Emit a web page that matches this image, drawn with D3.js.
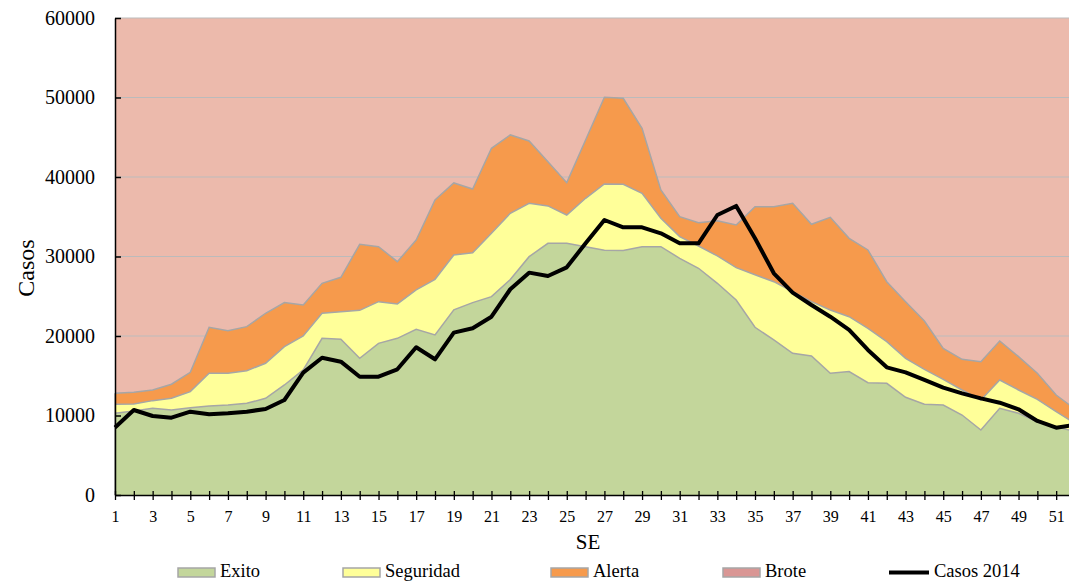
<!DOCTYPE html>
<html>
<head>
<meta charset="utf-8">
<script src="https://cdn.jsdelivr.net/npm/d3@7"></script>
<style>
  html, body { margin: 0; padding: 0; background: #ffffff; overflow: hidden; }
  svg { display: block; font-family: "Liberation Serif", serif; }
</style>
</head>
<body>
<svg id="chart" width="1069" height="582"></svg>
<script>
// ---- Data ----
const weeks = d3.range(1, 53);
const seriesNames = ["Exito", "Seguridad", "Alerta", "Brote", "Casos 2014"];
const yTicks = [0, 10000, 20000, 30000, 40000, 50000, 60000];

const exito = [10280, 10570, 10900, 10690, 10980, 11200, 11320, 11530, 12160, 13840,
  15730, 19710, 19580, 17190, 19080, 19710, 20840, 20130, 23300, 24200,
  24950, 27100, 29980, 31660, 31660, 31240, 30780, 30750, 31240, 31240,
  29770, 28520, 26630, 24530, 21100, 19500, 17830, 17490, 15310, 15520,
  14130, 14050, 12290, 11410, 11320, 10060, 8180, 10910, 10280, 9220,
  8590, 8000];

const seguridad = [11400, 11450, 11870, 12160, 13000, 15310, 15310, 15640, 16570, 18660,
  20000, 22860, 23060, 23230, 24320, 24030, 25790, 27130, 30190, 30480,
  32920, 35440, 36700, 36360, 35220, 37320, 39120, 39080, 37950, 34810,
  32500, 31320, 30070, 28600, 27700, 26830, 25580, 24320, 23270, 22430,
  20970, 19290, 17190, 15810, 14550, 13210, 11950, 14470, 13210, 12040,
  10480, 9020];

const alerta = [12800, 12920, 13200, 13930, 15430, 21100, 20670, 21180, 22860, 24200,
  23900, 26630, 27380, 31540, 31240, 29350, 32080, 37110, 39250, 38490,
  43610, 45290, 44530, 41930, 39290, 44660, 50030, 49900, 46130, 38370,
  35010, 34260, 34510, 33970, 36270, 36270, 36700, 34050, 34930, 32290,
  30820, 26830, 24320, 21890, 18450, 17070, 16770, 19370, 17400, 15310,
  12580, 10800];

const brote = weeks.map(() => 60000); // upper band reaches the top of the scale

const casos2014 = [8500, 10690, 9940, 9730, 10480, 10150, 10280, 10480, 10820, 11950,
  15390, 17270, 16770, 14880, 14880, 15810, 18580, 17070, 20420, 20970,
  22430, 25880, 27970, 27550, 28640, 31660, 34590, 33670, 33670, 32920,
  31660, 31660, 35220, 36360, 32290, 27890, 25450, 23900, 22430, 20760,
  18240, 16060, 15430, 14470, 13500, 12790, 12160, 11610, 10780, 9310,
  8470, 8810];

// ---- Layout ----
const colors = {
  Exito: "#C3D69B",
  Seguridad: "#FFFF99",
  Alerta: "#F69A4C",
  Brote: "#ECBAAC",
  BroteLegend: "#D99694",
  outline: "#A6A6A6",
  grid: "#BBBBBB"
};

const svg = d3.select("#chart");
const x = d3.scaleLinear().domain([1, 52]).range([115, 1075]);
const y = d3.scaleLinear().domain([0, 60000]).range([495, 18]);

const areaGen = d3.area()
  .x((d, i) => x(weeks[i]))
  .y0(y(0))
  .y1(d => y(d));
const lineGen = d3.line()
  .x((d, i) => x(weeks[i]))
  .y(d => y(d));

// Brote band (up to 60000)
svg.append("path").datum(brote)
  .attr("d", areaGen).attr("fill", colors.Brote);

// gridlines
svg.append("g").selectAll("line")
  .data(yTicks.filter(t => t > 0))
  .join("line")
  .attr("x1", x(1)).attr("x2", x(52))
  .attr("y1", d => y(d)).attr("y2", d => y(d))
  .attr("stroke", colors.grid).attr("stroke-width", 1.2);

// bands
const bands = [
  { name: "Alerta", data: alerta },
  { name: "Seguridad", data: seguridad },
  { name: "Exito", data: exito }
];
bands.forEach(b => {
  svg.append("path").datum(b.data)
    .attr("d", areaGen)
    .attr("fill", colors[b.name]);
  svg.append("path").datum(b.data)
    .attr("d", lineGen)
    .attr("fill", "none")
    .attr("stroke", colors.outline)
    .attr("stroke-width", 1.5);
});

// left edge outline
svg.append("line")
  .attr("x1", x(1)).attr("x2", x(1))
  .attr("y1", y(0)).attr("y2", y(alerta[0]))
  .attr("stroke", colors.outline).attr("stroke-width", 1.5);

// Casos 2014 line
svg.append("path").datum(casos2014)
  .attr("d", lineGen)
  .attr("fill", "none")
  .attr("stroke", "#000")
  .attr("stroke-width", 4)
  .attr("stroke-linejoin", "round");

// ---- Axes ----
const yAxis = d3.axisLeft(y).tickValues(yTicks).tickFormat(d3.format("d"))
  .tickSizeInner(-6).tickSizeOuter(0).tickPadding(20);
const gy = svg.append("g").attr("transform", `translate(${x(1)},0)`).call(yAxis);
gy.select(".domain").attr("stroke", "#000").attr("stroke-width", 1.5);
gy.selectAll(".tick line").attr("stroke", "#000").attr("stroke-width", 1.5);
gy.selectAll(".tick text").attr("font-size", 20).attr("fill", "#000")
  .attr("font-family", "Liberation Serif");

const xAxis = d3.axisBottom(x).tickValues(weeks)
  .tickFormat(d => (d % 2 === 1 ? d : ""))
  .tickSizeInner(5).tickSizeOuter(0).tickPadding(11);
const gx = svg.append("g").attr("transform", `translate(0,${y(0)})`).call(xAxis);
gx.select(".domain").attr("stroke", "#000").attr("stroke-width", 1.5);
gx.selectAll(".tick line").attr("stroke", "#000").attr("stroke-width", 1.3).attr("y1", -4);
gx.selectAll(".tick text").attr("font-size", 16).attr("fill", "#000")
  .attr("font-family", "Liberation Serif");

// axis titles
svg.append("text")
  .attr("transform", "translate(34,268) rotate(-90)")
  .attr("text-anchor", "middle")
  .attr("font-size", 24)
  .attr("fill", "#000")
  .text("Casos");

svg.append("text")
  .attr("x", 588).attr("y", 549)
  .attr("text-anchor", "middle")
  .attr("font-size", 21)
  .attr("fill", "#000")
  .text("SE");

// ---- Legend ----
const legendItems = [
  { name: seriesNames[0], x: 178, type: "box", color: colors.Exito },
  { name: seriesNames[1], x: 343, type: "box", color: colors.Seguridad },
  { name: seriesNames[2], x: 551, type: "box", color: colors.Alerta },
  { name: seriesNames[3], x: 723, type: "box", color: colors.BroteLegend },
  { name: seriesNames[4], x: 889, type: "line", color: "#000" }
];
const lg = svg.append("g");
legendItems.forEach(it => {
  if (it.type === "box") {
    lg.append("rect")
      .attr("x", it.x).attr("y", 568).attr("width", 37).attr("height", 9)
      .attr("fill", it.color).attr("stroke", colors.outline).attr("stroke-width", 1.5);
  } else {
    lg.append("line")
      .attr("x1", it.x).attr("x2", it.x + 40)
      .attr("y1", 572.5).attr("y2", 572.5)
      .attr("stroke", it.color).attr("stroke-width", 4);
  }
  lg.append("text")
    .attr("x", it.x + (it.type === "box" ? 42 : 45)).attr("y", 577)
    .attr("font-size", 18.5).attr("fill", "#000")
    .text(it.name);
});
</script>
</body>
</html>
